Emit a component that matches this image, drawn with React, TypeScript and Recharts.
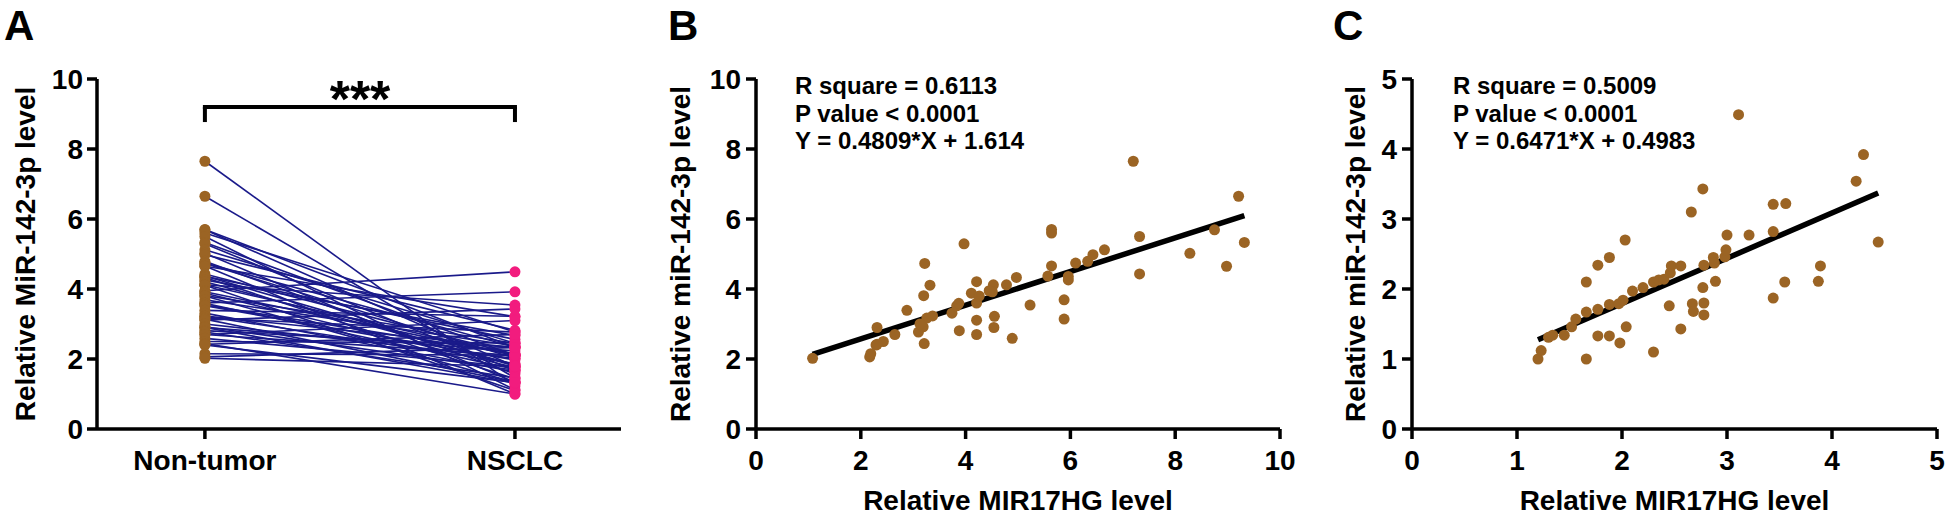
import { ScatterChart, Scatter, XAxis, YAxis, ReferenceLine } from "recharts"

const FONT = "'Liberation Sans', Arial, Helvetica, sans-serif"
const BROWN = "#9b6424"
const PINK = "#f21c7e"
const NAVY = "#1a1a8a"

// Panel A: paired samples (same index = same patient)
const groups = ["Non-tumor", "NSCLC"]
const nonTumor = [
  7.65, 6.65, 5.7, 5.69, 5.6, 5.5, 5.33, 5.29, 5.12, 5.02, 4.98, 4.79, 4.74, 4.73, 4.66, 4.65, 4.43, 4.37, 4.36, 4.33,
  4.26, 4.21, 4.12, 4.12, 4.11, 3.95, 3.92, 3.88, 3.81, 3.8, 3.69, 3.6, 3.59, 3.54, 3.52, 3.39, 3.31, 3.23, 3.22, 3.17,
  3.14, 3.11, 3.0, 2.92, 2.9, 2.9, 2.81, 2.77, 2.7, 2.7, 2.59, 2.5, 2.44, 2.42, 2.4, 2.15, 2.06, 2.02,
]
const nsclc = [
  1.23, 1.46, 2.33, 1.79, 2.77, 1.12, 2.1, 1.67, 2.45, 1.34, 2.82, 1.57, 2.34, 2.02, 1.0, 3.21, 2.13, 1.8, 2.56, 1.43,
  2.67, 1.84, 3.54, 2.1, 1.1, 4.49, 2.11, 1.76, 2.45, 1.33, 2.37, 3.92, 1.71, 2.14, 1.97, 3.22, 1.63, 2.33, 1.87, 2.77,
  1.34, 3.43, 2.02, 1.68, 2.23, 1.31, 2.34, 1.46, 3.1, 2.1, 1.78, 2.46, 1.0, 2.7, 1.33, 2.11, 2.33, 1.79,
]

// Panel B: non-tumor tissue
const mir17Normal = [
  1.08, 2.17, 2.19, 2.31, 2.29, 2.43, 2.65, 2.88, 3.22, 3.2, 3.32, 3.1, 3.21, 3.19, 3.26, 3.37, 3.74, 3.83, 3.87, 3.97,
  3.88, 4.11, 4.21, 4.21, 4.26, 4.21, 4.21, 4.53, 4.51, 4.55, 4.54, 4.78, 4.97, 4.89, 5.23, 5.57, 5.64, 5.64, 5.64, 5.88,
  5.88, 5.96, 5.96, 6.1, 6.33, 6.43, 6.65, 7.2, 7.32, 7.32, 8.28, 8.75, 8.98, 9.21, 9.32, 3.13, 4.45, 2.31,
]
const mir142Normal = [
  2.02, 2.06, 2.15, 2.9, 2.4, 2.5, 2.7, 3.39, 4.73, 3.81, 4.11, 2.77, 2.44, 2.92, 3.17, 3.23, 3.31, 3.52, 3.59, 5.29,
  2.81, 3.88, 4.21, 3.6, 3.8, 3.11, 2.7, 4.12, 3.92, 3.22, 2.9, 4.12, 4.33, 2.59, 3.54, 4.37, 5.7, 5.6, 4.66, 3.69,
  3.14, 4.36, 4.26, 4.74, 4.79, 4.98, 5.12, 7.65, 5.5, 4.43, 5.02, 5.69, 4.65, 6.65, 5.33, 3.0, 3.95, 2.42,
]
const fitNormal = { slope: 0.4809, intercept: 1.614 }
const statsNormal = ["R square = 0.6113", "P value < 0.0001", "Y = 0.4809*X + 1.614"]

// Panel C: NSCLC tissue
const mir17Tumor = [
  1.2, 1.23, 1.3, 1.34, 1.45, 1.52, 1.56, 1.66, 1.66, 1.66, 1.77, 1.77, 1.77, 1.88, 1.88, 1.88, 1.97, 1.98, 2.01, 2.03,
  2.04, 2.1, 2.2, 2.3, 2.35, 2.4, 2.3, 2.45, 2.46, 2.47, 2.56, 2.56, 2.66, 2.67, 2.68, 2.77, 2.77, 2.78, 2.78, 2.78,
  2.87, 2.88, 2.89, 2.98, 2.99, 3.0, 3.11, 3.21, 3.44, 3.44, 3.44, 3.56, 3.55, 3.87, 3.89, 4.23, 4.3, 4.44,
]
const mir142Tumor = [
  1.0, 1.12, 1.31, 1.34, 1.34, 1.46, 1.57, 1.67, 2.1, 1.0, 1.71, 2.34, 1.33, 1.78, 2.45, 1.33, 1.79, 1.23, 1.84, 2.7,
  1.46, 1.97, 2.02, 2.1, 2.13, 2.14, 1.1, 1.76, 2.23, 2.33, 2.33, 1.43, 3.1, 1.79, 1.68, 3.43, 2.02, 2.34, 1.8, 1.63,
  2.45, 2.37, 2.11, 2.46, 2.56, 2.77, 4.49, 2.77, 2.82, 3.21, 1.87, 3.22, 2.1, 2.11, 2.33, 3.54, 3.92, 2.67,
]
const fitTumor = { slope: 0.6471, intercept: 0.4983 }
const statsTumor = ["R square = 0.5009", "P value < 0.0001", "Y = 0.6471*X + 0.4983"]

const ticksTen = [0, 2, 4, 6, 8, 10]
const ticksFive = [0, 1, 2, 3, 4, 5]

const zip = (xs: number[], ys: number[]) => xs.map((x, i) => ({ x, y: ys[i] }))

const fitSegment = (xs: number[], fit: { slope: number; intercept: number }) => {
  const lo = Math.min(...xs)
  const hi = Math.max(...xs)
  return [
    { x: lo, y: fit.slope * lo + fit.intercept },
    { x: hi, y: fit.slope * hi + fit.intercept },
  ]
}

const axisStroke = { stroke: "#000", strokeWidth: 3.5 }
const tickFont = { fill: "#000", fontSize: 28, fontWeight: "bold", fontFamily: FONT }

const NoShape = () => <g />
const dot = (fill: string) => (props: any) =>
  <circle cx={props.cx} cy={props.cy} r={5.5} fill={fill} />

function AxisTitle({ text, tx, ty, rotate }: { text: string; tx: number; ty: number; rotate?: boolean }) {
  return (
    <text
      x={tx}
      y={ty}
      transform={rotate ? `rotate(-90 ${tx} ${ty})` : undefined}
      textAnchor="middle"
      dominantBaseline="central"
      fontSize={28}
      fontWeight="bold"
      fontFamily={FONT}
      fill="#000"
    >
      {text}
    </text>
  )
}

function PairedPanel() {
  return (
    <ScatterChart width={640} height={520} margin={{ top: 79, right: 19, bottom: 0, left: 0 }}>
      <XAxis
        type="number"
        dataKey="x"
        domain={[-0.348, 1.342]}
        ticks={[0, 1]}
        tickFormatter={(v: number) => groups[v]}
        allowDataOverflow
        interval={0}
        height={91}
        axisLine={axisStroke}
        tickLine={axisStroke}
        tickSize={10}
        tickMargin={11}
        tick={tickFont}
      />
      <YAxis
        type="number"
        dataKey="y"
        domain={[0, 10]}
        ticks={ticksTen}
        interval={0}
        width={97}
        axisLine={axisStroke}
        tickLine={axisStroke}
        tickSize={10}
        tickMargin={4}
        tick={tickFont}
        label={<AxisTitle text="Relative MiR-142-3p level" tx={25} ty={254} rotate />}
      />
      {nonTumor.map((v, i) => (
        <Scatter
          key={i}
          data={[
            { x: 0, y: v },
            { x: 1, y: nsclc[i] },
          ]}
          line={{ stroke: NAVY, strokeWidth: 1.6 }}
          shape={NoShape}
          isAnimationActive={false}
        />
      ))}
      <Scatter data={nonTumor.map((y) => ({ x: 0, y }))} shape={dot(BROWN)} isAnimationActive={false} />
      <Scatter data={nsclc.map((y) => ({ x: 1, y }))} shape={dot(PINK)} isAnimationActive={false} />
      <ReferenceLine segment={[{ x: 0, y: 9.2 }, { x: 1, y: 9.2 }]} stroke="#000" strokeWidth={4} strokeLinecap="square" />
      <ReferenceLine segment={[{ x: 0, y: 8.77 }, { x: 0, y: 9.2 }]} stroke="#000" strokeWidth={4} />
      <ReferenceLine segment={[{ x: 1, y: 8.77 }, { x: 1, y: 9.2 }]} stroke="#000" strokeWidth={4} />
    </ScatterChart>
  )
}

function CorrelationPanel({
  xs,
  ys,
  fit,
  width,
  yWidth,
  right,
  xMax,
  ticks,
  yTitleX,
}: {
  xs: number[]
  ys: number[]
  fit: { slope: number; intercept: number }
  width: number
  yWidth: number
  right: number
  xMax: number
  ticks: number[]
  yTitleX: number
}) {
  const plotCenter = (yWidth + width - right) / 2
  return (
    <ScatterChart width={width} height={520} margin={{ top: 79, right, bottom: 0, left: 0 }}>
      <XAxis
        type="number"
        dataKey="x"
        domain={[0, xMax]}
        ticks={ticks}
        interval={0}
        height={91}
        axisLine={axisStroke}
        tickLine={axisStroke}
        tickSize={10}
        tickMargin={11}
        tick={tickFont}
        label={<AxisTitle text="Relative MIR17HG level" tx={plotCenter} ty={500} />}
      />
      <YAxis
        type="number"
        dataKey="y"
        domain={[0, xMax]}
        ticks={ticks}
        interval={0}
        width={yWidth}
        axisLine={axisStroke}
        tickLine={axisStroke}
        tickSize={10}
        tickMargin={5}
        tick={tickFont}
        label={<AxisTitle text="Relative miR-142-3p level" tx={yTitleX} ty={254} rotate />}
      />
      <Scatter
        data={fitSegment(xs, fit)}
        line={{ stroke: "#000", strokeWidth: 5.5 }}
        shape={NoShape}
        isAnimationActive={false}
      />
      <Scatter data={zip(xs, ys)} shape={dot(BROWN)} isAnimationActive={false} />
    </ScatterChart>
  )
}

function Overlay() {
  const stat = (lines: string[], x: number) =>
    lines.map((t, i) => (
      <text key={t} x={x} y={94 + i * 27.5} fontSize={24} fontWeight="bold" fontFamily={FONT} fill="#000">
        {t}
      </text>
    ))
  return (
    <svg width={1946} height={520} style={{ position: "absolute", left: 0, top: 0, pointerEvents: "none" }}>
      <text x={4} y={40} fontSize={42} fontWeight="bold" fontFamily={FONT}>A</text>
      <text x={668} y={40} fontSize={42} fontWeight="bold" fontFamily={FONT}>B</text>
      <text x={1333} y={40} fontSize={42} fontWeight="bold" fontFamily={FONT}>C</text>
      <text x={360} y={117} fontSize={52} fontWeight="bold" fontFamily={FONT} textAnchor="middle">***</text>
      {stat(statsNormal, 795)}
      {stat(statsTumor, 1453)}
    </svg>
  )
}

export default function App() {
  return (
    <div style={{ position: "absolute", left: 0, top: 0, width: 1946, height: 520, background: "#fff", fontFamily: FONT }}>
      <div style={{ position: "absolute", left: 0, top: 0 }}>
        <PairedPanel />
      </div>
      <div style={{ position: "absolute", left: 640, top: 0 }}>
        <CorrelationPanel
          xs={mir17Normal}
          ys={mir142Normal}
          fit={fitNormal}
          width={660}
          yWidth={116}
          right={20}
          xMax={10}
          ticks={ticksTen}
          yTitleX={40}
        />
      </div>
      <div style={{ position: "absolute", left: 1300, top: 0 }}>
        <CorrelationPanel
          xs={mir17Tumor}
          ys={mir142Tumor}
          fit={fitTumor}
          width={646}
          yWidth={112}
          right={9}
          xMax={5}
          ticks={ticksFive}
          yTitleX={55}
        />
      </div>
      <Overlay />
    </div>
  )
}
